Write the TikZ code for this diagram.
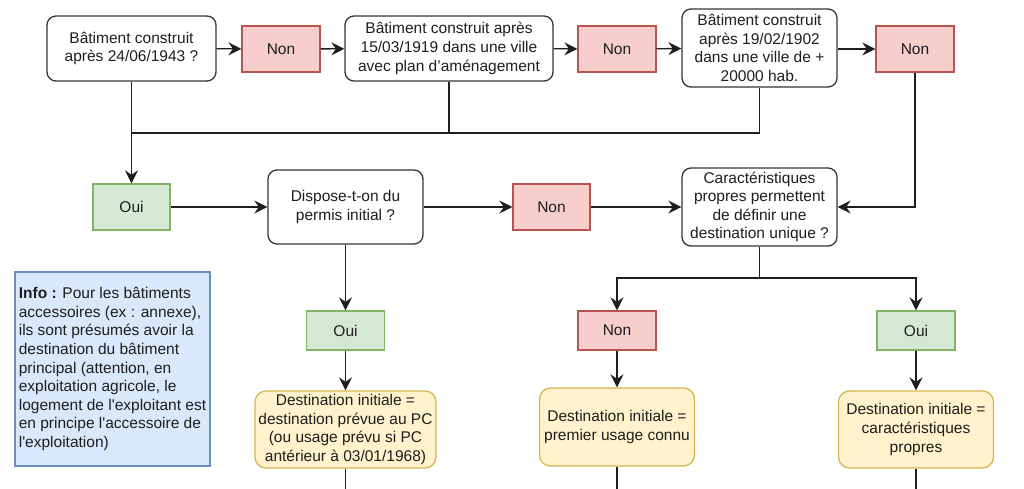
\documentclass[tikz,border=0pt]{standalone}
\usepackage{fontspec}
\setmainfont{Liberation Sans}[Ligatures=TeXOff]
\usetikzlibrary{arrows.meta}
\definecolor{redfill}{HTML}{F8CECC}
\definecolor{redline}{HTML}{B85450}
\definecolor{greenfill}{HTML}{D5E8D4}
\definecolor{greenline}{HTML}{82B366}
\definecolor{yellowfill}{HTML}{FFF2CC}
\definecolor{yellowline}{HTML}{D6B656}
\definecolor{bluefill}{HTML}{DAE8FC}
\definecolor{blueline}{HTML}{6C8EBF}
\definecolor{ink}{HTML}{1E1E1E}
\begin{document}
\begin{tikzpicture}[x=1pt,y=-1pt,
  base/.style={font=\fontsize{15.5}{18.6}\selectfont, text=ink, align=center, inner sep=0pt, line width=1.3pt},
  question/.style={base, draw=ink!90, fill=white, rounded corners=9pt},
  nonbox/.style={base, draw=redline, fill=redfill},
  ouibox/.style={base, draw=greenline, fill=greenfill},
  destbox/.style={base, draw=yellowline, fill=yellowfill, rounded corners=11pt},
  infobox/.style={base, draw=blueline, fill=bluefill, align=left},
  link/.style={line width=1.3pt, draw=ink, -{Stealth[length=13pt,width=13pt,inset=4.5pt]}},
  plain/.style={line width=1.3pt, draw=ink},
]
\useasboundingbox[fill=white] (0,0) rectangle (1024,489);

% top row
\node[question, minimum width=169pt, minimum height=65pt] (b1) at (131.5,48.5) {Bâtiment construit\\après 24/06/1943 ?};
\node[nonbox, minimum width=78pt, minimum height=46pt] (n1) at (281,49) {Non};
\node[question, minimum width=208pt, minimum height=65pt] (b2) at (449,48.5) {Bâtiment construit après\\15/03/1919 dans une ville\\avec plan d’aménagement};
\node[nonbox, minimum width=78pt, minimum height=46pt] (n2) at (617,49) {Non};
\node[question, minimum width=155pt, minimum height=78pt] (b3) at (759.5,48) {Bâtiment construit\\après 19/02/1902\\dans une ville de +\\20000 hab.};
\node[nonbox, minimum width=78pt, minimum height=46pt] (n3) at (915,49) {Non};

% second row
\node[ouibox, minimum width=77pt, minimum height=46pt] (o1) at (131.5,207) {Oui};
\node[question, minimum width=155pt, minimum height=74pt] (b4) at (345.5,207) {Dispose-t-on du\\permis initial ?};
\node[nonbox, minimum width=77pt, minimum height=46pt] (nm) at (551.5,207) {Non};
\node[question, minimum width=155pt, minimum height=78pt] (b5) at (759.5,207) {Caractéristiques\\propres permettent\\de définir une\\destination unique ?};

% third row
\node[infobox, minimum width=195pt, minimum height=194pt] (info) at (112.5,369) {\textbf{Info :} Pour les bâtiments\\accessoires (ex : annexe),\\ils sont présumés avoir la\\destination du bâtiment\\principal (attention, en\\exploitation agricole, le\\logement de l'exploitant est\\en principe l'accessoire de\\l'exploitation)};
\node[ouibox, minimum width=78pt, minimum height=39pt] (o2) at (345.5,330.5) {Oui};
\node[nonbox, minimum width=78pt, minimum height=39pt] (n4) at (617,330.5) {Non};
\node[ouibox, minimum width=78pt, minimum height=39pt] (o3) at (916,330.5) {Oui};

% destinations
\node[destbox, minimum width=181pt, minimum height=77pt] (d1) at (345.5,429.5) {Destination initiale =\\destination prévue au PC\\(ou usage prévu si PC\\antérieur à 03/01/1968)};
\node[destbox, minimum width=155pt, minimum height=78pt] (d2) at (617,427) {Destination initiale =\\premier usage connu};
\node[destbox, minimum width=155pt, minimum height=77pt] (d3) at (916,429.5) {Destination initiale =\\caractéristiques\\propres};

% helper coordinates
\coordinate (m1) at (131.5,133);
\coordinate (s1) at (759.5,278);
\coordinate (e1) at (345.5,489);
\coordinate (e2) at (617,489);
\coordinate (e3) at (916,489);

% connectors top row
\draw[link] (b1) -- (n1);
\draw[link] (n1) -- (b2);
\draw[link] (b2) -- (n2);
\draw[link] (n2) -- (b3);
\draw[link] (b3.east |- n3) -- (n3);

% merge to Oui
\draw[plain] (b2.south) |- (m1);
\draw[plain] (b3.south) |- (m1);
\draw[link] (b1.south) -- (o1.north);

% second row
\draw[link] (o1) -- (b4);
\draw[link] (b4) -- (nm);
\draw[link] (nm) -- (b5);
\draw[link] (n3.south) |- (b5.east);

% downward
\draw[link] (b4.south) -- (o2.north);
\draw[link] (o2.south) -- (d1.north);
\draw[plain] (b5.south) -- (s1);
\draw[link] (s1) -| (n4.north);
\draw[link] (s1) -| (o3.north);
\draw[link] (n4.south) -- (d2.north);
\draw[link] (o3.south) -- (d3.north);

% exits
\draw[plain] (d1.south) -- (e1);
\draw[plain] (d2.south) -- (e2);
\draw[plain] (d3.south) -- (e3);
\end{tikzpicture}
\end{document}
